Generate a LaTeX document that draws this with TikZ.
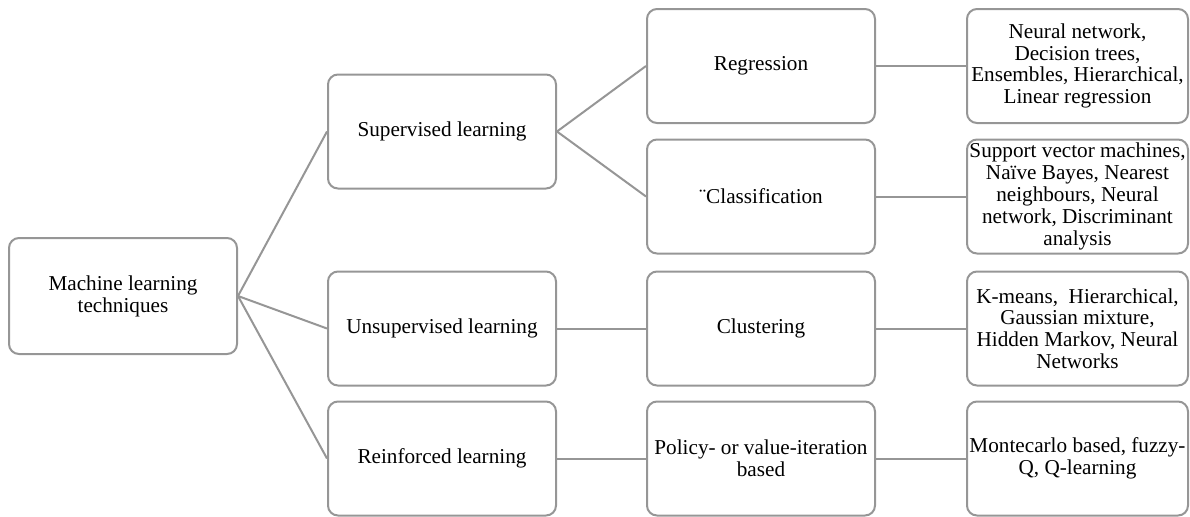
\documentclass[tikz,border=0pt]{standalone}
\usepackage{fontspec}
\setmainfont{Liberation Serif}
\usepackage{tikz}
\usepackage{xcolor}
\definecolor{boxgray}{RGB}{150,150,150}

\begin{document}
\begin{tikzpicture}[x=0.5pt, y=-0.5pt,
    font=\fontsize{10.6pt}{10.9pt}\selectfont,
    box/.style={draw=boxgray, line width=1pt, rounded corners=5pt,
      minimum width=114pt, minimum height=57pt, align=center, inner sep=1pt},
    leafbox/.style={box, minimum width=110.5pt},
    link/.style={draw=boxgray, line width=1pt}]
  \useasboundingbox (0,0) rectangle (1190,516);
  % root
  \node[box, minimum height=58pt] (root) at (123,296)
    {Machine learning\\techniques};
  % learning types
  \node[box] (sup) at (442,131.5) {Supervised learning};
  \node[box] (unsup) at (442,328.5) {Unsupervised learning};
  \node[box] (reinf) at (442,458.5) {Reinforced learning};
  % tasks
  \node[box] (regr) at (761,66) {Regression};
  \node[box] (class) at (761,196.5) {¨Classification};
  \node[box] (clust) at (761,328.5) {Clustering};
  \node[box] (policy) at (761,458.5) {Policy- or value-iteration\\based};
  % algorithms
  \node[leafbox] (regralg) at (1077.5,66)
    {Neural network,\\Decision trees,\\Ensembles, Hierarchical,\\Linear regression};
  \node[leafbox] (classalg) at (1077.5,196.5)
    {Support vector machines,\\Naïve Bayes, Nearest\\neighbours, Neural\\network, Discriminant\\analysis};
  \node[leafbox] (clustalg) at (1077.5,328.5)
    {K-means,\ \ Hierarchical,\\Gaussian mixture,\\Hidden Markov, Neural\\Networks};
  \node[leafbox] (policyalg) at (1077.5,458.5)
    {Montecarlo based, fuzzy-\\Q, Q-learning};
  % connectors
  \foreach \t in {sup,unsup,reinf}
    \draw[link] (root.east) -- (\t.west);
  \foreach \t in {regr,class}
    \draw[link] (sup.east) -- (\t.west);
  \draw[link] (unsup.east) -- (clust.west);
  \draw[link] (reinf.east) -- (policy.west);
  \draw[link] (regr.east) -- (regralg.west);
  \draw[link] (class.east) -- (classalg.west);
  \draw[link] (clust.east) -- (clustalg.west);
  \draw[link] (policy.east) -- (policyalg.west);
\end{tikzpicture}
\end{document}
